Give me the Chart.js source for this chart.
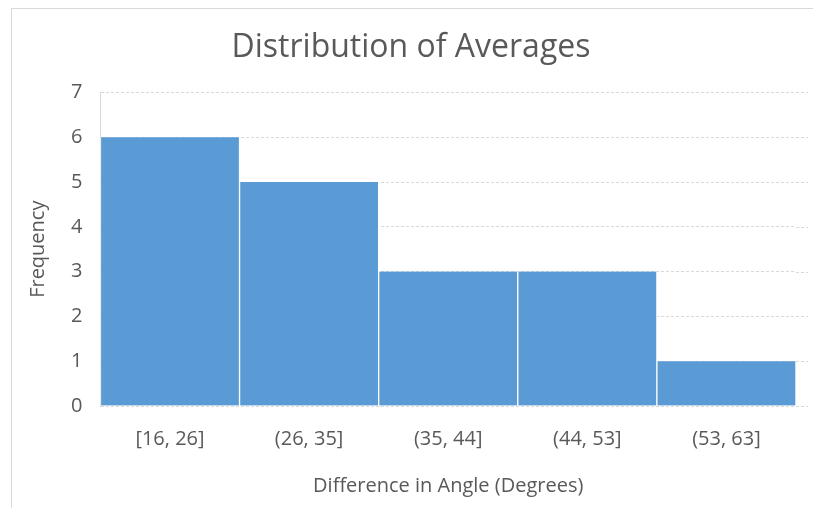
<!DOCTYPE html>
<html>
<head>
<meta charset="utf-8">
<script src="https://cdn.jsdelivr.net/npm/chart.js@4"></script>
<style>
  html, body { margin: 0; padding: 0; background: #fff; }
  #wrap { position: relative; width: 813px; height: 508px; overflow: hidden; }
  #frame { position: absolute; left: 11px; top: 8px; width: 820px; height: 520px; border: 1px solid #d9d9d9; box-sizing: border-box; }
  canvas { position: absolute; left: 0; top: 0; }
</style>
</head>
<body>
<div id="wrap">
  <div id="frame"></div>
  <canvas id="c" width="813" height="508"></canvas>
</div>
<script>
const categories = ["[16, 26]", "(26, 35]", "(35, 44]", "(44, 53]", "(53, 63]"];
const frequencies = [6, 5, 3, 3, 1];
const yTicks = [0, 1, 2, 3, 4, 5, 6, 7];

const FONT = "'Open Sans', 'Noto Sans', sans-serif";
const GRAY = '#595959';
const GRID = '#d9d9d9';

const extendGrid = {
  id: 'extendGrid',
  afterDraw(chart) {
    const y = chart.scales.y;
    const ctx = chart.ctx;
    const area = chart.chartArea;
    ctx.save();
    ctx.strokeStyle = GRID;
    ctx.lineWidth = 1;
    ctx.setLineDash([3, 2]);
    y.ticks.forEach(t => {
      const py = Math.round(y.getPixelForValue(t.value)) + 0.5;
      ctx.beginPath();
      ctx.moveTo(area.right, py);
      ctx.lineTo(area.right + 12, py);
      ctx.stroke();
    });
    ctx.restore();
  }
};

new Chart(document.getElementById('c'), {
  type: 'bar',
  data: {
    labels: categories,
    datasets: [{
      data: frequencies,
      backgroundColor: '#5B9BD5',
      borderColor: '#ffffff',
      borderWidth: { left: 1, right: 1, top: 0, bottom: 0 },
      barPercentage: 1,
      categoryPercentage: 1
    }]
  },
  options: {
    responsive: false,
    animation: false,
    devicePixelRatio: 1,
    layout: { padding: { left: 26, right: 17, top: 10, bottom: 10 } },
    plugins: {
      legend: { display: false },
      tooltip: { enabled: false },
      title: {
        display: true,
        text: 'Distribution of Averages',
        color: GRAY,
        font: { family: FONT, size: 32, weight: 'normal' },
        padding: { top: 19, bottom: 25 }
      }
    },
    scales: {
      x: {
        grid: { display: false },
        border: { display: false },
        ticks: { color: GRAY, font: { family: FONT, size: 20 }, padding: 13 },
        title: {
          display: true,
          text: 'Difference in Angle (Degrees)',
          color: GRAY,
          font: { family: FONT, size: 20 },
          padding: { top: 10, bottom: 0 }
        }
      },
      y: {
        min: 0,
        max: 7,
        afterBuildTicks: (axis) => { axis.ticks = yTicks.map(v => ({ value: v })); },
        grid: { color: GRID, lineWidth: 1, drawTicks: false },
        border: { display: true, color: GRID, dash: [3, 2] },
        ticks: { color: GRAY, font: { family: FONT, size: 20 }, padding: 18 },
        title: {
          display: true,
          text: 'Frequency',
          color: GRAY,
          font: { family: FONT, size: 20 },
          padding: { top: 0, bottom: 3 }
        }
      }
    }
  },
  plugins: [extendGrid]
});
</script>
</body>
</html>
